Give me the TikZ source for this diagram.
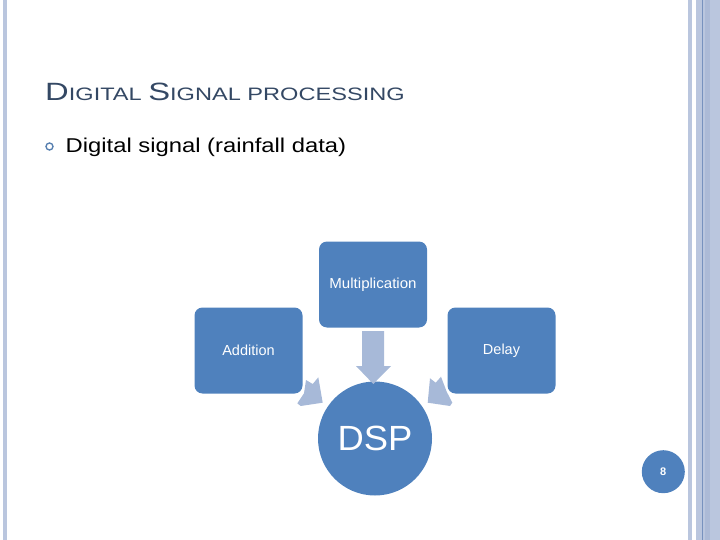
\documentclass[tikz,border=0pt]{standalone}
\usepackage{fontspec}
\setmainfont{Liberation Sans}
\definecolor{boxblue}{RGB}{79,129,189}
\definecolor{arrowblue}{RGB}{167,185,216}
\definecolor{barblue}{RGB}{186,198,222}
\definecolor{bardark}{RGB}{120,146,190}
\definecolor{barmid}{RGB}{172,186,214}
\definecolor{titlecol}{RGB}{52,72,100}
\begin{document}
\begin{tikzpicture}[x=1pt,y=-1pt,
  blockbox/.style={draw=none,fill=boxblue,rounded corners=8pt,minimum width=108pt,minimum height=86pt,inner sep=0pt,text=white,font=\fontsize{14.5}{14.5}\selectfont},
  blockarrow/.style={fill=arrowblue,draw=none},
  bar/.style={fill=barblue,draw=none}]
\useasboundingbox (0,0) rectangle (720,540);
% side bars
\fill[bar] (3,0) rectangle (7,540);
\fill[bar] (688,0) rectangle (692,540);
\fill[bar] (696,0) rectangle (720,540);
\fill[barmid] (705,0) rectangle (710,540);
\draw[bardark,line width=0.8pt] (702.5,0) -- (702.5,540);
% title
\node[anchor=base west,inner sep=0pt,text=titlecol] (title) at (45,101)
 {\scalebox{1.31}[1]{{\fontsize{25}{25}\selectfont D}{\fontsize{18}{18}\selectfont IGITAL }{\fontsize{25}{25}\selectfont S}{\fontsize{18}{18}\selectfont IGNAL PROCESSING}}};
% bullet
\node[circle,draw=boxblue!80!gray,line width=1.4pt,minimum size=7pt,inner sep=0pt] (bul) at (49.5,146.5) {};
\node[anchor=base west,inner sep=0pt,font=\fontsize{20}{20}\selectfont] (bt) at (65.5,152.5) {\scalebox{1.19}[1]{Digital signal (rainfall data)}};
% boxes
\node[blockbox] (mul) at (373,284.5) {\scalebox{1.04}[1]{Multiplication}};
\node[blockbox] (add) at (248.5,350.5) {Addition};
\node[blockbox] (del) at (501.5,350.5) {Delay};
\node[circle,fill=boxblue,minimum size=114pt,inner sep=0pt,text=white,font=\fontsize{35}{35}\selectfont] (dsp) at (375,438.5) {\scalebox{1.04}[1]{DSP}};
% arrows
\fill[blockarrow] (362,331) -- (384,331) -- (384,366) -- (391,366) -- (373.3,384) -- (356,366) -- (362,366) -- cycle;
\fill[blockarrow] (306,380) -- (312.7,384) -- (318.3,377.3) -- (322.7,402.7) -- (300.7,406) -- (297.3,403.3) -- (304,393.3) -- cycle;
\fill[blockarrow] (441,376.7) -- (435.7,382.7) -- (430,378.3) -- (427.7,402.7) -- (450,406) -- (452.3,402.7) -- (446.7,391.7) -- cycle;
% page number
\node[circle,fill=boxblue,minimum size=43pt,inner sep=0pt,text=white,font=\bfseries\fontsize{11}{11}\selectfont] (pg) at (663.3,471.7) {8};
\end{tikzpicture}
\end{document}
